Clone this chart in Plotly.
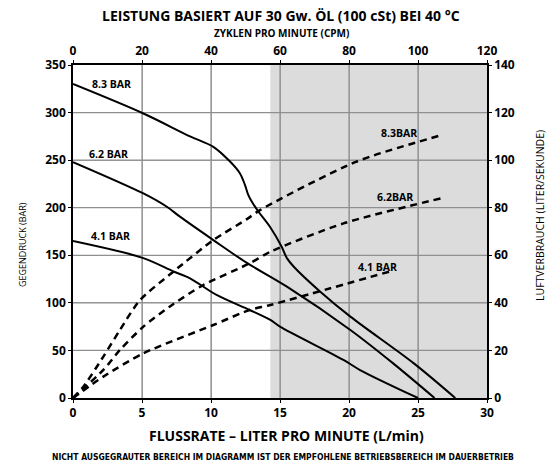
import plotly.graph_objects as go

# ---- data ----
flow_83 = [0, 5.1, 8.48, 10.17, 11.38, 12.1, 12.46, 12.7, 12.95, 13.43, 14.27, 15.12, 15.5, 16.0, 17.9, 20.1, 24.7, 27.7]
press_83 = [330, 299, 275, 264, 248.5, 236, 224, 213.5, 206.5, 196, 180, 159, 147, 138, 112, 85.5, 36.4, 0]
flow_62 = [0, 5.1, 6.8, 7.75, 10.17, 12.6, 15.5, 20.1, 23.2, 26.2]
press_62 = [248, 215, 201, 190.6, 166, 142, 117, 71.5, 36.4, 0]
flow_41 = [0, 5.1, 7.27, 8.48, 10.4, 12.8, 14.3, 15.0, 19.6, 20.8, 25.0]
press_41 = [165, 147, 133, 125.8, 108.3, 92.5, 82, 75, 40, 29.4, 0]

air_flow_83 = [0, 0.75, 2.2, 3.4, 4.86, 7.27, 10.17, 12.6, 13.55, 20.5, 26.7]
air_83 = [0, 4.75, 17.4, 28.6, 41.2, 53.1, 66.4, 75.2, 79.0, 99.3, 110.5]
air_flow_62 = [0, 2.2, 3.4, 5.1, 7.0, 9.44, 12.8, 14.3, 19.6, 26.7]
air_62 = [0, 11.8, 20.2, 30, 38.4, 47.5, 56.6, 61.5, 73.4, 84]
air_flow_41 = [0, 2.2, 5.1, 10.17, 12.8, 14.3, 22.9]
air_41 = [0, 9, 18.8, 30.7, 37, 39.1, 53.1]

x_ticks = [0, 5, 10, 15, 20, 25, 30]
cpm_ticks = [0, 20, 40, 60, 80, 100, 120]
y_ticks = [0, 50, 100, 150, 200, 250, 300, 350]
y2_ticks = [0, 20, 40, 60, 80, 100, 120, 140]
gray_start = 14.3

title = "LEISTUNG BASIERT AUF 30 Gw. ÖL (100 cSt) BEI 40 °C"
subtitle = "ZYKLEN PRO MINUTE (CPM)"
x_title = "FLUSSRATE – LITER PRO MINUTE (L/min)"
y_title = "GEGENDRUCK (BAR)"
y2_title = "LUFTVERBRAUCH (LITER/SEKUNDE)"
footer = "NICHT AUSGEGRAUTER BEREICH IM DIAGRAMM IST DER EMPFOHLENE BETRIEBSBEREICH IM DAUERBETRIEB"
curve_labels = ["8.3 BAR", "6.2 BAR", "4.1 BAR", "8.3BAR", "6.2BAR", "4.1 BAR"]
label_x = [2.8, 2.56, 2.7, 23.6, 23.3, 22.1]
label_y = [330, 256, 170, 279, 211.5, 138]

FONT = "Open Sans"
tickfont = dict(family=FONT, size=12, color="black", weight="bold")
GRID = "#8f8f8f"
X_RANGE = [x_ticks[0], x_ticks[-1]]
Y_RANGE = [y_ticks[0], y_ticks[-1]]

fig = go.Figure()

# grid lines built from the tick arrays (a trace, so they sit above the shaded region)
gx, gy = [], []
for xv in x_ticks[1:-1]:
    gx += [xv, xv, None]
    gy += [Y_RANGE[0], Y_RANGE[1], None]
for yv in y_ticks[1:-1]:
    gx += [X_RANGE[0], X_RANGE[1], None]
    gy += [yv, yv, None]
fig.add_trace(go.Scatter(x=gx, y=gy, mode="lines", line=dict(color=GRID, width=1.2),
                         connectgaps=False, showlegend=False, hoverinfo="skip"))

for xs, ys in [(flow_83, press_83), (flow_62, press_62), (flow_41, press_41)]:
    fig.add_trace(go.Scatter(x=xs, y=ys, mode="lines",
                             line=dict(color="black", width=2, shape="spline", smoothing=0.9),
                             showlegend=False, hoverinfo="skip"))
for xs, ys in [(air_flow_83, air_83), (air_flow_62, air_62), (air_flow_41, air_41)]:
    fig.add_trace(go.Scatter(x=xs, y=ys, mode="lines", yaxis="y2",
                             line=dict(color="black", width=2.5, dash="7px,5px", shape="spline", smoothing=0.7),
                             showlegend=False, hoverinfo="skip"))
# invisible trace to anchor the top (CPM) axis
fig.add_trace(go.Scatter(x=[0, 120], y=[0, 0], xaxis="x2", mode="markers", marker=dict(opacity=0),
                         showlegend=False, hoverinfo="skip"))

# shaded (non-recommended) region
fig.add_shape(type="rect", xref="x", yref="paper", x0=gray_start, x1=30, y0=0, y1=1,
              fillcolor="#dcdcdc", line=dict(width=0), layer="below")

axis_common = dict(showline=True, linecolor="black", linewidth=1.5, ticks="outside", ticklen=3,
                   tickcolor="black", tickfont=tickfont, zeroline=False)

fig.update_layout(
    width=554, height=464,
    margin=dict(l=73, r=67, t=65, b=66),
    paper_bgcolor="white", plot_bgcolor="white",
    xaxis=dict(range=X_RANGE, tickvals=x_ticks, showgrid=True, gridcolor="#a8a8a8", **axis_common),
    xaxis2=dict(range=[0, 120], tickvals=cpm_ticks, overlaying="x", side="top", showgrid=False,
                **axis_common),
    yaxis=dict(range=Y_RANGE, tickvals=y_ticks, showgrid=True, gridcolor="#a8a8a8", **axis_common),
    yaxis2=dict(range=[0, 140], tickvals=y2_ticks, overlaying="y", side="right", showgrid=False,
                **axis_common),
)

ann_font = dict(family=FONT, size=10.5, color="black", weight="bold")
for x, y, t in zip(label_x, label_y, curve_labels):
    fig.add_annotation(x=x, y=y, text=t, showarrow=False, font=ann_font,
                       xanchor="center", yanchor="middle")


def px_x(p):
    return (p - 73) / 414


def px_y(p):
    return (398 - p) / 333


def text_ann(x, y, text, font, angle=0):
    fig.add_annotation(xref="paper", yref="paper", x=px_x(x), y=px_y(y), text=text, showarrow=False,
                       xanchor="center", yanchor="middle", textangle=angle, font=font)


text_ann(281, 15, title, dict(family=FONT, size=14, color="black", weight="bold"))
text_ann(281, 33, subtitle, dict(family=FONT, size=10, color="black", weight="bold"))
text_ann(286, 435, x_title, dict(family=FONT, size=14, color="black", weight="bold"))
text_ann(283, 457, footer, dict(family="DejaVu Sans Condensed, Liberation Sans Narrow", size=8.5,
                                color="black", weight="bold"))
text_ann(22, 245, y_title, dict(family=FONT, size=9, color="black"), angle=-90)
text_ann(540, 216, y2_title, dict(family=FONT, size=10.5, color="black"), angle=-90)

fig.write_html("out.html", config={"displayModeBar": False},
               post_script="document.body.style.margin='0px';")
